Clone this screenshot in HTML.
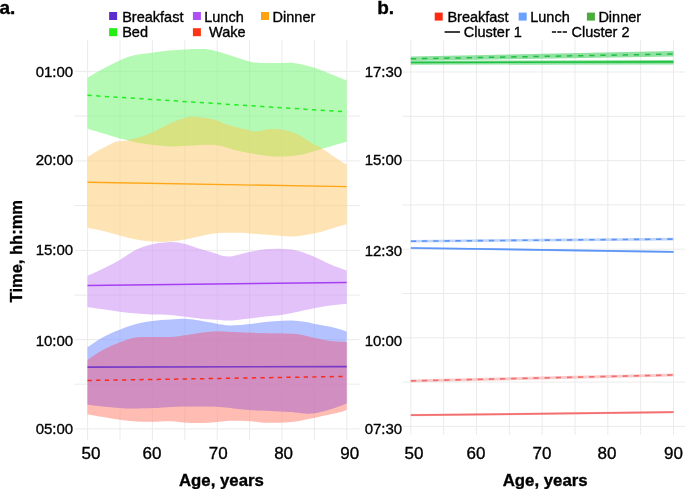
<!DOCTYPE html>
<html><head><meta charset="utf-8"><style>
html,body{margin:0;padding:0;background:#fff;width:685px;height:489px;overflow:hidden}
svg{display:block}
text{font-family:"Liberation Sans",sans-serif;fill:#000;stroke:#000;stroke-width:0.35px}
</style></head><body>
<svg width="685" height="489" viewBox="0 0 685 489">
<defs><clipPath id="cBed"><path d="M87.50,77.80 C90.15,76.27 98.03,71.50 103.40,68.60 C108.77,65.70 114.60,62.62 119.70,60.40 C124.80,58.18 128.55,56.58 134.00,55.30 C139.45,54.02 146.60,53.48 152.40,52.70 C158.20,51.92 163.35,51.15 168.80,50.60 C174.25,50.05 179.90,49.67 185.10,49.40 C190.30,49.13 196.02,49.00 200.00,49.00 C203.98,49.00 206.03,48.97 209.00,49.40 C211.97,49.83 213.58,50.37 217.80,51.60 C222.02,52.83 229.00,55.15 234.30,56.80 C239.60,58.45 245.17,60.48 249.60,61.50 C254.03,62.52 255.62,62.67 260.90,62.90 C266.18,63.13 275.85,62.87 281.30,62.90 C286.75,62.93 289.52,62.67 293.60,63.10 C297.68,63.53 302.40,64.75 305.80,65.50 C309.20,66.25 310.58,66.47 314.00,67.60 C317.42,68.73 320.85,70.15 326.30,72.30 C331.75,74.45 343.30,79.13 346.70,80.50 L346.70,141.70 C344.65,142.28 338.48,144.02 334.40,145.20 C330.32,146.38 326.62,147.52 322.20,148.80 C317.78,150.08 312.33,151.80 307.90,152.90 C303.47,154.00 300.37,154.78 295.60,155.40 C290.83,156.02 284.40,156.60 279.30,156.60 C274.20,156.60 269.95,156.02 265.00,155.40 C260.05,154.78 254.72,153.82 249.60,152.90 C244.48,151.98 239.23,151.08 234.30,149.90 C229.37,148.72 224.45,146.67 220.00,145.80 C215.55,144.93 213.42,144.70 207.60,144.70 C201.78,144.70 191.23,145.52 185.10,145.80 C178.97,146.08 176.25,146.58 170.80,146.40 C165.35,146.22 157.85,145.32 152.40,144.70 C146.95,144.08 142.18,143.45 138.10,142.70 C134.02,141.95 130.97,140.88 127.90,140.20 C124.83,139.52 123.45,139.62 119.70,138.60 C115.95,137.58 110.77,135.73 105.40,134.10 C100.03,132.47 90.48,129.68 87.50,128.80 Z"/></clipPath><clipPath id="cBrk"><path d="M87.50,347.10 C90.15,345.40 98.03,339.80 103.40,336.90 C108.77,334.00 114.25,331.85 119.70,329.70 C125.15,327.55 130.65,325.45 136.10,324.00 C141.55,322.55 146.62,321.75 152.40,321.00 C158.18,320.25 165.00,319.85 170.80,319.50 C176.60,319.15 182.42,318.73 187.20,318.90 C191.98,319.07 194.73,319.75 199.50,320.50 C204.27,321.25 210.68,322.57 215.80,323.40 C220.92,324.23 224.57,325.40 230.20,325.50 C235.83,325.60 243.80,324.58 249.60,324.00 C255.40,323.42 260.40,322.50 265.00,322.00 C269.60,321.50 272.78,321.25 277.20,321.00 C281.62,320.75 286.73,320.33 291.50,320.50 C296.27,320.67 301.37,321.32 305.80,322.00 C310.23,322.68 313.33,323.65 318.10,324.60 C322.87,325.55 329.63,326.57 334.40,327.70 C339.17,328.83 344.65,330.78 346.70,331.40 L346.70,403.40 C345.33,403.92 341.90,405.32 338.50,406.50 C335.10,407.68 331.07,409.32 326.30,410.50 C321.53,411.68 315.70,413.35 309.90,413.60 C304.10,413.85 297.97,412.43 291.50,412.00 C285.03,411.57 278.08,411.35 271.10,411.00 C264.12,410.65 258.12,410.58 249.60,409.90 C241.08,409.22 227.68,407.47 220.00,406.90 C212.32,406.33 208.97,406.57 203.50,406.50 C198.03,406.43 192.65,406.43 187.20,406.50 C181.75,406.57 176.60,406.63 170.80,406.90 C165.00,407.17 158.18,407.83 152.40,408.10 C146.62,408.37 141.55,408.53 136.10,408.50 C130.65,408.47 125.15,408.23 119.70,407.90 C114.25,407.57 108.77,407.08 103.40,406.50 C98.03,405.92 90.15,404.75 87.50,404.40 Z"/></clipPath></defs>
<rect width="685" height="489" fill="#fff"/>
<g stroke="#ebebeb" stroke-width="1"><line x1="87.60" y1="40.20" x2="87.60" y2="440.40"/><line x1="120.00" y1="40.20" x2="120.00" y2="440.40"/><line x1="152.40" y1="40.20" x2="152.40" y2="440.40"/><line x1="184.80" y1="40.20" x2="184.80" y2="440.40"/><line x1="217.20" y1="40.20" x2="217.20" y2="440.40"/><line x1="249.60" y1="40.20" x2="249.60" y2="440.40"/><line x1="282.00" y1="40.20" x2="282.00" y2="440.40"/><line x1="314.40" y1="40.20" x2="314.40" y2="440.40"/><line x1="346.80" y1="40.20" x2="346.80" y2="440.40"/><line x1="74.50" y1="71.40" x2="359.50" y2="71.40"/><line x1="74.50" y1="116.10" x2="359.50" y2="116.10"/><line x1="74.50" y1="160.90" x2="359.50" y2="160.90"/><line x1="74.50" y1="205.60" x2="359.50" y2="205.60"/><line x1="74.50" y1="250.40" x2="359.50" y2="250.40"/><line x1="74.50" y1="295.10" x2="359.50" y2="295.10"/><line x1="74.50" y1="339.60" x2="359.50" y2="339.60"/><line x1="74.50" y1="384.20" x2="359.50" y2="384.20"/><line x1="74.50" y1="428.90" x2="359.50" y2="428.90"/><line x1="410.80" y1="40.10" x2="410.80" y2="434.90"/><line x1="443.64" y1="40.10" x2="443.64" y2="434.90"/><line x1="476.48" y1="40.10" x2="476.48" y2="434.90"/><line x1="509.32" y1="40.10" x2="509.32" y2="434.90"/><line x1="542.16" y1="40.10" x2="542.16" y2="434.90"/><line x1="575.00" y1="40.10" x2="575.00" y2="434.90"/><line x1="607.84" y1="40.10" x2="607.84" y2="434.90"/><line x1="640.68" y1="40.10" x2="640.68" y2="434.90"/><line x1="673.52" y1="40.10" x2="673.52" y2="434.90"/><line x1="402.50" y1="72.00" x2="686.00" y2="72.00"/><line x1="402.50" y1="116.30" x2="686.00" y2="116.30"/><line x1="402.50" y1="160.60" x2="686.00" y2="160.60"/><line x1="402.50" y1="204.90" x2="686.00" y2="204.90"/><line x1="402.50" y1="249.20" x2="686.00" y2="249.20"/><line x1="402.50" y1="293.50" x2="686.00" y2="293.50"/><line x1="402.50" y1="337.80" x2="686.00" y2="337.80"/><line x1="402.50" y1="382.10" x2="686.00" y2="382.10"/><line x1="402.50" y1="426.40" x2="686.00" y2="426.40"/></g>
<path d="M87.50,77.80 C90.15,76.27 98.03,71.50 103.40,68.60 C108.77,65.70 114.60,62.62 119.70,60.40 C124.80,58.18 128.55,56.58 134.00,55.30 C139.45,54.02 146.60,53.48 152.40,52.70 C158.20,51.92 163.35,51.15 168.80,50.60 C174.25,50.05 179.90,49.67 185.10,49.40 C190.30,49.13 196.02,49.00 200.00,49.00 C203.98,49.00 206.03,48.97 209.00,49.40 C211.97,49.83 213.58,50.37 217.80,51.60 C222.02,52.83 229.00,55.15 234.30,56.80 C239.60,58.45 245.17,60.48 249.60,61.50 C254.03,62.52 255.62,62.67 260.90,62.90 C266.18,63.13 275.85,62.87 281.30,62.90 C286.75,62.93 289.52,62.67 293.60,63.10 C297.68,63.53 302.40,64.75 305.80,65.50 C309.20,66.25 310.58,66.47 314.00,67.60 C317.42,68.73 320.85,70.15 326.30,72.30 C331.75,74.45 343.30,79.13 346.70,80.50 L346.70,141.70 C344.65,142.28 338.48,144.02 334.40,145.20 C330.32,146.38 326.62,147.52 322.20,148.80 C317.78,150.08 312.33,151.80 307.90,152.90 C303.47,154.00 300.37,154.78 295.60,155.40 C290.83,156.02 284.40,156.60 279.30,156.60 C274.20,156.60 269.95,156.02 265.00,155.40 C260.05,154.78 254.72,153.82 249.60,152.90 C244.48,151.98 239.23,151.08 234.30,149.90 C229.37,148.72 224.45,146.67 220.00,145.80 C215.55,144.93 213.42,144.70 207.60,144.70 C201.78,144.70 191.23,145.52 185.10,145.80 C178.97,146.08 176.25,146.58 170.80,146.40 C165.35,146.22 157.85,145.32 152.40,144.70 C146.95,144.08 142.18,143.45 138.10,142.70 C134.02,141.95 130.97,140.88 127.90,140.20 C124.83,139.52 123.45,139.62 119.70,138.60 C115.95,137.58 110.77,135.73 105.40,134.10 C100.03,132.47 90.48,129.68 87.50,128.80 Z" fill="rgb(132,247,130)" fill-opacity="0.60"/>
<path d="M87.50,347.10 C90.15,345.40 98.03,339.80 103.40,336.90 C108.77,334.00 114.25,331.85 119.70,329.70 C125.15,327.55 130.65,325.45 136.10,324.00 C141.55,322.55 146.62,321.75 152.40,321.00 C158.18,320.25 165.00,319.85 170.80,319.50 C176.60,319.15 182.42,318.73 187.20,318.90 C191.98,319.07 194.73,319.75 199.50,320.50 C204.27,321.25 210.68,322.57 215.80,323.40 C220.92,324.23 224.57,325.40 230.20,325.50 C235.83,325.60 243.80,324.58 249.60,324.00 C255.40,323.42 260.40,322.50 265.00,322.00 C269.60,321.50 272.78,321.25 277.20,321.00 C281.62,320.75 286.73,320.33 291.50,320.50 C296.27,320.67 301.37,321.32 305.80,322.00 C310.23,322.68 313.33,323.65 318.10,324.60 C322.87,325.55 329.63,326.57 334.40,327.70 C339.17,328.83 344.65,330.78 346.70,331.40 L346.70,403.40 C345.33,403.92 341.90,405.32 338.50,406.50 C335.10,407.68 331.07,409.32 326.30,410.50 C321.53,411.68 315.70,413.35 309.90,413.60 C304.10,413.85 297.97,412.43 291.50,412.00 C285.03,411.57 278.08,411.35 271.10,411.00 C264.12,410.65 258.12,410.58 249.60,409.90 C241.08,409.22 227.68,407.47 220.00,406.90 C212.32,406.33 208.97,406.57 203.50,406.50 C198.03,406.43 192.65,406.43 187.20,406.50 C181.75,406.57 176.60,406.63 170.80,406.90 C165.00,407.17 158.18,407.83 152.40,408.10 C146.62,408.37 141.55,408.53 136.10,408.50 C130.65,408.47 125.15,408.23 119.70,407.90 C114.25,407.57 108.77,407.08 103.40,406.50 C98.03,405.92 90.15,404.75 87.50,404.40 Z" fill="rgb(130,153,255)" fill-opacity="0.60"/>
<path d="M87.50,157.00 C89.13,155.98 94.32,152.60 97.30,150.90 C100.28,149.20 102.33,148.33 105.40,146.80 C108.47,145.27 111.95,142.80 115.70,141.70 C119.45,140.60 123.48,141.05 127.90,140.20 C132.32,139.35 137.43,138.23 142.20,136.60 C146.97,134.97 151.73,132.62 156.50,130.40 C161.27,128.18 166.70,125.17 170.80,123.30 C174.90,121.43 177.68,120.30 181.10,119.20 C184.52,118.10 187.57,116.93 191.30,116.70 C195.03,116.47 199.42,117.22 203.50,117.80 C207.58,118.38 212.22,119.17 215.80,120.20 C219.38,121.23 221.92,122.90 225.00,124.00 C228.08,125.10 230.20,125.73 234.30,126.80 C238.40,127.87 245.85,129.62 249.60,130.40 C253.35,131.18 254.23,131.57 256.80,131.50 C259.37,131.43 262.28,130.42 265.00,130.00 C267.72,129.58 269.70,128.93 273.10,129.00 C276.50,129.07 281.30,129.48 285.40,130.40 C289.50,131.32 293.95,132.78 297.70,134.50 C301.45,136.22 303.82,138.32 307.90,140.70 C311.98,143.08 317.78,146.08 322.20,148.80 C326.62,151.52 330.32,154.33 334.40,157.00 C338.48,159.67 344.65,163.50 346.70,164.80 L346.70,224.20 C344.65,224.78 338.48,226.50 334.40,227.70 C330.32,228.90 326.97,230.18 322.20,231.40 C317.43,232.62 310.92,234.15 305.80,235.00 C300.68,235.85 297.28,236.50 291.50,236.50 C285.72,236.50 278.08,235.52 271.10,235.00 C264.12,234.48 255.73,233.77 249.60,233.40 C243.47,233.03 239.93,232.83 234.30,232.80 C228.67,232.77 220.93,232.77 215.80,233.20 C210.67,233.63 208.27,234.42 203.50,235.40 C198.73,236.38 192.65,238.07 187.20,239.10 C181.75,240.13 176.60,241.18 170.80,241.60 C165.00,242.02 158.18,241.95 152.40,241.60 C146.62,241.25 141.55,240.53 136.10,239.50 C130.65,238.47 125.15,236.83 119.70,235.40 C114.25,233.97 108.77,232.18 103.40,230.90 C98.03,229.62 90.15,228.23 87.50,227.70 Z" fill="rgb(253,210,132)" fill-opacity="0.60"/>
<path d="M87.50,275.90 C90.15,274.67 98.03,271.15 103.40,268.50 C108.77,265.85 114.25,263.13 119.70,260.00 C125.15,256.87 130.65,252.33 136.10,249.70 C141.55,247.07 146.62,245.48 152.40,244.20 C158.18,242.92 165.35,242.03 170.80,242.00 C176.25,241.97 180.32,242.88 185.10,244.00 C189.88,245.12 194.38,247.13 199.50,248.70 C204.62,250.27 212.05,252.23 215.80,253.40 C219.55,254.57 219.60,255.18 222.00,255.70 C224.40,256.22 227.13,256.75 230.20,256.50 C233.27,256.25 236.98,254.98 240.40,254.20 C243.82,253.42 246.60,252.62 250.70,251.80 C254.80,250.98 260.23,249.82 265.00,249.30 C269.77,248.78 274.20,248.55 279.30,248.70 C284.40,248.85 290.50,249.17 295.60,250.20 C300.70,251.23 305.47,253.20 309.90,254.90 C314.33,256.60 318.12,258.53 322.20,260.40 C326.28,262.27 330.32,264.40 334.40,266.10 C338.48,267.80 344.65,269.85 346.70,270.60 L346.70,303.80 C343.98,304.10 335.85,304.85 330.40,305.60 C324.95,306.35 319.45,307.27 314.00,308.30 C308.55,309.33 303.15,310.68 297.70,311.80 C292.25,312.92 286.75,314.22 281.30,315.00 C275.85,315.78 270.28,315.92 265.00,316.50 C259.72,317.08 255.40,317.83 249.60,318.50 C243.80,319.17 235.13,320.27 230.20,320.50 C225.27,320.73 224.45,320.13 220.00,319.90 C215.55,319.67 208.97,319.57 203.50,319.10 C198.03,318.63 192.65,317.78 187.20,317.10 C181.75,316.42 176.60,315.45 170.80,315.00 C165.00,314.55 158.18,314.67 152.40,314.40 C146.62,314.13 141.55,313.83 136.10,313.40 C130.65,312.97 125.15,312.48 119.70,311.80 C114.25,311.12 108.77,310.12 103.40,309.30 C98.03,308.48 90.15,307.30 87.50,306.90 Z" fill="rgb(208,153,247)" fill-opacity="0.60"/>
<path d="M87.50,360.00 C90.15,358.30 98.03,352.73 103.40,349.80 C108.77,346.87 114.25,344.45 119.70,342.40 C125.15,340.35 130.65,338.42 136.10,337.50 C141.55,336.58 146.62,337.00 152.40,336.90 C158.18,336.80 165.00,337.23 170.80,336.90 C176.60,336.57 181.75,335.65 187.20,334.90 C192.65,334.15 198.03,332.98 203.50,332.40 C208.97,331.82 212.32,331.33 220.00,331.40 C227.68,331.47 241.08,332.47 249.60,332.80 C258.12,333.13 263.77,333.23 271.10,333.40 C278.43,333.57 287.82,333.38 293.60,333.80 C299.38,334.22 302.07,335.15 305.80,335.90 C309.53,336.65 311.90,337.45 316.00,338.30 C320.10,339.15 325.28,340.38 330.40,341.00 C335.52,341.62 343.98,341.83 346.70,342.00 L346.70,409.90 C345.33,410.35 341.90,411.72 338.50,412.60 C335.10,413.48 331.07,414.18 326.30,415.20 C321.53,416.22 315.35,417.60 309.90,418.70 C304.45,419.80 299.05,421.12 293.60,421.80 C288.15,422.48 282.65,422.70 277.20,422.80 C271.75,422.90 265.50,422.67 260.90,422.40 C256.30,422.13 254.72,421.47 249.60,421.20 C244.48,420.93 235.13,420.70 230.20,420.80 C225.27,420.90 224.45,421.43 220.00,421.80 C215.55,422.17 208.97,422.83 203.50,423.00 C198.03,423.17 192.65,423.10 187.20,422.80 C181.75,422.50 176.60,421.37 170.80,421.20 C165.00,421.03 158.18,421.77 152.40,421.80 C146.62,421.83 141.55,421.75 136.10,421.40 C130.65,421.05 125.15,420.42 119.70,419.70 C114.25,418.98 108.77,418.02 103.40,417.10 C98.03,416.18 90.15,414.68 87.50,414.20 Z" fill="rgb(255,143,127)" fill-opacity="0.60"/>
<path d="M87.50,157.00 C89.13,155.98 94.32,152.60 97.30,150.90 C100.28,149.20 102.33,148.33 105.40,146.80 C108.47,145.27 111.95,142.80 115.70,141.70 C119.45,140.60 123.48,141.05 127.90,140.20 C132.32,139.35 137.43,138.23 142.20,136.60 C146.97,134.97 151.73,132.62 156.50,130.40 C161.27,128.18 166.70,125.17 170.80,123.30 C174.90,121.43 177.68,120.30 181.10,119.20 C184.52,118.10 187.57,116.93 191.30,116.70 C195.03,116.47 199.42,117.22 203.50,117.80 C207.58,118.38 212.22,119.17 215.80,120.20 C219.38,121.23 221.92,122.90 225.00,124.00 C228.08,125.10 230.20,125.73 234.30,126.80 C238.40,127.87 245.85,129.62 249.60,130.40 C253.35,131.18 254.23,131.57 256.80,131.50 C259.37,131.43 262.28,130.42 265.00,130.00 C267.72,129.58 269.70,128.93 273.10,129.00 C276.50,129.07 281.30,129.48 285.40,130.40 C289.50,131.32 293.95,132.78 297.70,134.50 C301.45,136.22 303.82,138.32 307.90,140.70 C311.98,143.08 317.78,146.08 322.20,148.80 C326.62,151.52 330.32,154.33 334.40,157.00 C338.48,159.67 344.65,163.50 346.70,164.80 L346.70,224.20 C344.65,224.78 338.48,226.50 334.40,227.70 C330.32,228.90 326.97,230.18 322.20,231.40 C317.43,232.62 310.92,234.15 305.80,235.00 C300.68,235.85 297.28,236.50 291.50,236.50 C285.72,236.50 278.08,235.52 271.10,235.00 C264.12,234.48 255.73,233.77 249.60,233.40 C243.47,233.03 239.93,232.83 234.30,232.80 C228.67,232.77 220.93,232.77 215.80,233.20 C210.67,233.63 208.27,234.42 203.50,235.40 C198.73,236.38 192.65,238.07 187.20,239.10 C181.75,240.13 176.60,241.18 170.80,241.60 C165.00,242.02 158.18,241.95 152.40,241.60 C146.62,241.25 141.55,240.53 136.10,239.50 C130.65,238.47 125.15,236.83 119.70,235.40 C114.25,233.97 108.77,232.18 103.40,230.90 C98.03,229.62 90.15,228.23 87.50,227.70 Z" fill="rgb(208,226,105)" fill-opacity="0.5" clip-path="url(#cBed)"/>
<path d="M87.50,360.00 C90.15,358.30 98.03,352.73 103.40,349.80 C108.77,346.87 114.25,344.45 119.70,342.40 C125.15,340.35 130.65,338.42 136.10,337.50 C141.55,336.58 146.62,337.00 152.40,336.90 C158.18,336.80 165.00,337.23 170.80,336.90 C176.60,336.57 181.75,335.65 187.20,334.90 C192.65,334.15 198.03,332.98 203.50,332.40 C208.97,331.82 212.32,331.33 220.00,331.40 C227.68,331.47 241.08,332.47 249.60,332.80 C258.12,333.13 263.77,333.23 271.10,333.40 C278.43,333.57 287.82,333.38 293.60,333.80 C299.38,334.22 302.07,335.15 305.80,335.90 C309.53,336.65 311.90,337.45 316.00,338.30 C320.10,339.15 325.28,340.38 330.40,341.00 C335.52,341.62 343.98,341.83 346.70,342.00 L346.70,409.90 C345.33,410.35 341.90,411.72 338.50,412.60 C335.10,413.48 331.07,414.18 326.30,415.20 C321.53,416.22 315.35,417.60 309.90,418.70 C304.45,419.80 299.05,421.12 293.60,421.80 C288.15,422.48 282.65,422.70 277.20,422.80 C271.75,422.90 265.50,422.67 260.90,422.40 C256.30,422.13 254.72,421.47 249.60,421.20 C244.48,420.93 235.13,420.70 230.20,420.80 C225.27,420.90 224.45,421.43 220.00,421.80 C215.55,422.17 208.97,422.83 203.50,423.00 C198.03,423.17 192.65,423.10 187.20,422.80 C181.75,422.50 176.60,421.37 170.80,421.20 C165.00,421.03 158.18,421.77 152.40,421.80 C146.62,421.83 141.55,421.75 136.10,421.40 C130.65,421.05 125.15,420.42 119.70,419.70 C114.25,418.98 108.77,418.02 103.40,417.10 C98.03,416.18 90.15,414.68 87.50,414.20 Z" fill="rgb(193,120,206)" fill-opacity="0.5" clip-path="url(#cBrk)"/>
<line x1="87.50" y1="95.30" x2="346.70" y2="111.90" stroke="#22ee22" stroke-width="1.50" stroke-dasharray="4.3 4.35"/>
<line x1="87.50" y1="182.30" x2="346.70" y2="186.60" stroke="#ffa616" stroke-width="1.40"/>
<line x1="87.50" y1="285.50" x2="346.70" y2="282.50" stroke="#a63ff2" stroke-width="1.40"/>
<line x1="87.50" y1="367.10" x2="346.70" y2="366.60" stroke="#7a3ac8" stroke-width="1.60"/>
<line x1="87.50" y1="380.50" x2="346.70" y2="376.40" stroke="#fa2a1e" stroke-width="1.50" stroke-dasharray="4.3 4.35"/>
<path d="M410.80,56.60 L673.50,51.10 L673.50,56.60 L410.80,60.80 Z" fill="#36c957" fill-opacity="0.55"/>
<path d="M410.80,60.80 L673.50,60.10 L673.50,64.50 L410.80,64.70 Z" fill="#36c957" fill-opacity="0.55"/>
<line x1="410.80" y1="58.80" x2="673.50" y2="54.00" stroke="#20c040" stroke-width="1.50" stroke-dasharray="5.4 5.75"/>
<line x1="410.80" y1="62.50" x2="673.50" y2="61.90" stroke="#20c040" stroke-width="1.60"/>
<path d="M410.80,239.90 L673.50,237.70 L673.50,240.50 L410.80,242.50 Z" fill="#5e96f7" fill-opacity="0.40"/>
<path d="M410.80,247.00 L673.50,250.90 L673.50,252.90 L410.80,249.00 Z" fill="#5e96f7" fill-opacity="0.40"/>
<line x1="410.80" y1="241.20" x2="673.50" y2="239.10" stroke="#5e96f7" stroke-width="1.60" stroke-dasharray="5.4 5.75"/>
<line x1="410.80" y1="248.00" x2="673.50" y2="251.90" stroke="#5e96f7" stroke-width="1.70"/>
<path d="M410.80,379.50 L673.50,373.50 L673.50,376.60 L410.80,382.30 Z" fill="#f36e6e" fill-opacity="0.35"/>
<path d="M410.80,414.10 L673.50,411.00 L673.50,413.20 L410.80,416.30 Z" fill="#f36e6e" fill-opacity="0.35"/>
<line x1="410.80" y1="380.90" x2="673.50" y2="375.00" stroke="#f36e6e" stroke-width="1.60" stroke-dasharray="5.4 5.75"/>
<line x1="410.80" y1="415.20" x2="673.50" y2="412.10" stroke="#f36e6e" stroke-width="1.70"/>
<rect x="109.10" y="12.00" width="8" height="8" fill="#5b2fcf"/>
<rect x="192.90" y="12.00" width="8" height="8" fill="#b04ef5"/>
<rect x="261.00" y="12.00" width="8" height="8" fill="#ffa313"/>
<rect x="109.10" y="28.20" width="8" height="8" fill="#22ee11"/>
<rect x="192.90" y="28.20" width="8" height="8" fill="#ff3412"/>
<rect x="434.70" y="12.60" width="8" height="8" fill="#ff2a0e"/>
<rect x="518.70" y="12.60" width="8" height="8" fill="#6aa0ff"/>
<rect x="586.90" y="12.60" width="8" height="8" fill="#4aac3a"/>
<rect x="444.6" y="31.2" width="15.4" height="1.6" fill="#111"/>
<rect x="551.90" y="31.2" width="4.2" height="1.6" fill="#111"/>
<rect x="557.30" y="31.2" width="4.2" height="1.6" fill="#111"/>
<rect x="562.70" y="31.2" width="4.2" height="1.6" fill="#111"/>
<g style="will-change:transform"><text x="-0.50" y="13.70" font-size="19.00" text-anchor="start" font-weight="bold" >a.</text>
<text x="377.20" y="13.70" font-size="19.00" text-anchor="start" font-weight="bold" >b.</text>
<text x="73.20" y="77.00" font-size="15.00" text-anchor="end" font-weight="normal" >01:00</text>
<text x="73.20" y="165.00" font-size="15.00" text-anchor="end" font-weight="normal" >20:00</text>
<text x="73.20" y="255.40" font-size="15.00" text-anchor="end" font-weight="normal" >15:00</text>
<text x="73.20" y="345.60" font-size="15.00" text-anchor="end" font-weight="normal" >10:00</text>
<text x="73.20" y="433.80" font-size="15.00" text-anchor="end" font-weight="normal" >05:00</text>
<text x="402.20" y="77.40" font-size="15.00" text-anchor="end" font-weight="normal" >17:30</text>
<text x="402.20" y="165.20" font-size="15.00" text-anchor="end" font-weight="normal" >15:00</text>
<text x="402.20" y="255.90" font-size="15.00" text-anchor="end" font-weight="normal" >12:30</text>
<text x="402.20" y="345.50" font-size="15.00" text-anchor="end" font-weight="normal" >10:00</text>
<text x="402.20" y="433.90" font-size="15.00" text-anchor="end" font-weight="normal" >07:30</text>
<text x="91.00" y="459.30" font-size="17.00" text-anchor="middle" font-weight="normal" >50</text>
<text x="151.90" y="459.30" font-size="17.00" text-anchor="middle" font-weight="normal" >60</text>
<text x="218.30" y="459.30" font-size="17.00" text-anchor="middle" font-weight="normal" >70</text>
<text x="283.60" y="459.30" font-size="17.00" text-anchor="middle" font-weight="normal" >80</text>
<text x="349.80" y="459.30" font-size="17.00" text-anchor="middle" font-weight="normal" >90</text>
<text x="414.00" y="459.30" font-size="17.00" text-anchor="middle" font-weight="normal" >50</text>
<text x="476.00" y="459.30" font-size="17.00" text-anchor="middle" font-weight="normal" >60</text>
<text x="542.00" y="459.30" font-size="17.00" text-anchor="middle" font-weight="normal" >70</text>
<text x="607.00" y="459.30" font-size="17.00" text-anchor="middle" font-weight="normal" >80</text>
<text x="673.50" y="459.30" font-size="17.00" text-anchor="middle" font-weight="normal" >90</text>
<text x="221.40" y="485.90" font-size="16.80" text-anchor="middle" font-weight="bold" >Age, years</text>
<text x="545.20" y="485.90" font-size="16.80" text-anchor="middle" font-weight="bold" >Age, years</text>
<text transform="translate(22.3,251.2) rotate(-90)" font-size="16.5" text-anchor="middle" font-weight="bold">Time, hh:mm</text>
<text x="122.20" y="21.50" font-size="14.50" text-anchor="start" font-weight="normal" >Breakfast</text>
<text x="204.20" y="21.50" font-size="14.50" text-anchor="start" font-weight="normal" >Lunch</text>
<text x="272.60" y="21.50" font-size="14.50" text-anchor="start" font-weight="normal" >Dinner</text>
<text x="122.20" y="37.00" font-size="14.50" text-anchor="start" font-weight="normal" >Bed</text>
<text x="205.00" y="37.00" font-size="14.50" text-anchor="start" font-weight="normal" >&#160;Wake</text>
<text x="447.40" y="21.60" font-size="14.50" text-anchor="start" font-weight="normal" >Breakfast</text>
<text x="530.20" y="21.60" font-size="14.50" text-anchor="start" font-weight="normal" >Lunch</text>
<text x="598.40" y="21.60" font-size="14.50" text-anchor="start" font-weight="normal" >Dinner</text>
<text x="463.80" y="37.00" font-size="14.50" text-anchor="start" font-weight="normal" >Cluster 1</text>
<text x="571.50" y="37.00" font-size="14.50" text-anchor="start" font-weight="normal" >Cluster 2</text></g>
</svg>
</body></html>
